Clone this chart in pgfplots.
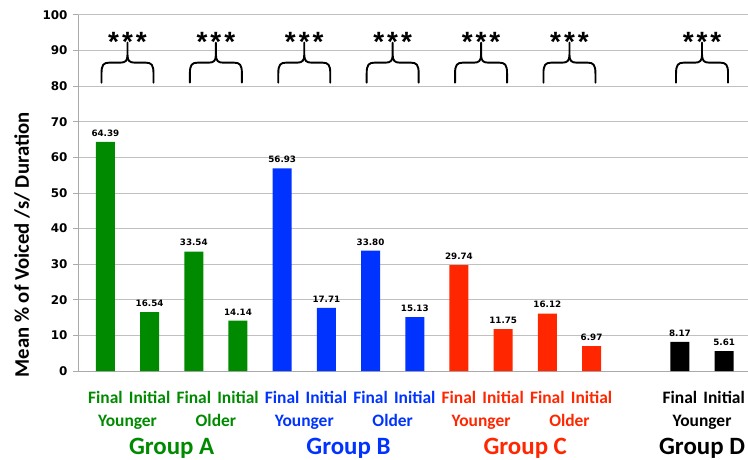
\documentclass[border=0pt]{standalone}
\usepackage{fontspec}
\setmainfont{Carlito}
\newfontfamily\numfont{DejaVu Sans}
\newfontfamily\starfont{Liberation Sans}
\usepackage{pgfplots}
\pgfplotsset{compat=1.18}

\definecolor{grpA}{RGB}{0,138,0}
\definecolor{grpB}{RGB}{0,51,255}
\definecolor{grpC}{RGB}{255,38,0}
\definecolor{grpD}{RGB}{0,0,0}
\definecolor{gridgray}{RGB}{192,192,192}
\definecolor{axgray}{RGB}{170,170,170}

% significance brace with stars, anchored at the middle of its feet
\newcommand\sigbrace[1]{%
  \draw[line width=1.9bp, line cap=round, line join=round, shift={(#1)}]
    (-26bp,0bp) -- (-26bp,9bp) .. controls (-26bp,18bp) and (-24bp,20bp) .. (-18bp,20bp)
    -- (-7bp,20bp) .. controls (-2bp,20bp) and (0bp,22bp) .. (0bp,28bp) -- (0bp,40bp)
    (26bp,0bp) -- (26bp,9bp) .. controls (26bp,18bp) and (24bp,20bp) .. (18bp,20bp)
    -- (7bp,20bp) .. controls (2bp,20bp) and (0bp,22bp) .. (0bp,28bp);
  \node[font=\starfont\bfseries\fontsize{28}{28}\selectfont, anchor=base, inner sep=0pt]
    at ([yshift=31bp]#1) {*\kern3bp*\kern3bp*};
}

\begin{document}
\begin{tikzpicture}
\begin{axis}[
  name=ax,
  scale only axis,
  width=670bp, height=356bp,
  xmin=-0.62, xmax=14.54,
  ymin=0, ymax=100,
  ytick={0,10,...,100},
  axis lines=left,
  axis line style={-, draw=axgray, line width=1pt},
  ymajorgrids,
  grid style={gridgray, line width=1pt},
  major tick length=5bp,
  tick align=outside,
  y tick style={axgray, line width=1pt},
  x tick style={draw=none},
  /pgf/number format/assume math mode=true,
  yticklabel style={font=\numfont\bfseries\fontsize{12}{12}\selectfont, xshift=-2bp},
  xtick={0,1,2,3,4,5,6,7,8,9,10,11,13,14},
  xticklabels={
    \textcolor{grpA}{Final},\textcolor{grpA}{Initial},\textcolor{grpA}{Final},\textcolor{grpA}{Initial},
    \textcolor{grpB}{Final},\textcolor{grpB}{Initial},\textcolor{grpB}{Final},\textcolor{grpB}{Initial},
    \textcolor{grpC}{Final},\textcolor{grpC}{Initial},\textcolor{grpC}{Final},\textcolor{grpC}{Initial},
    \textcolor{grpD}{Final},\textcolor{grpD}{Initial}},
  xticklabel style={font=\bfseries\fontsize{17.5}{17.5}\selectfont, anchor=base, yshift=-27bp},
  clip=false,
  ybar, bar width=19bp, bar shift=0pt,
  nodes near coords={\pgfmathprintnumber[fixed,fixed zerofill,precision=2]{\pgfplotspointmeta}},
  every node near coord/.append style={font=\numfont\bfseries\fontsize{8.8}{9}\selectfont, text=black, yshift=2bp},
]
% Group A
\addplot[fill=grpA, draw=none] coordinates {(0,64.39) (1,16.54) (2,33.54) (3,14.14)};
% Group B
\addplot[fill=grpB, draw=none] coordinates {(4,56.93) (5,17.71) (6,33.80) (7,15.13)};
% Group C
\addplot[fill=grpC, draw=none] coordinates {(8,29.74) (9,11.75) (10,16.12) (11,6.97)};
% Group D
\addplot[fill=grpD, draw=none] coordinates {(13,8.17) (14,5.61)};

% anchors for the significance braces
\coordinate (b1) at (axis cs:0.5,81);
\coordinate (b2) at (axis cs:2.5,81);
\coordinate (b3) at (axis cs:4.5,81);
\coordinate (b4) at (axis cs:6.5,81);
\coordinate (b5) at (axis cs:8.5,81);
\coordinate (b6) at (axis cs:10.5,81);
\coordinate (b7) at (axis cs:13.5,81);

% age and group captions
\coordinate (y1) at (axis cs:0.5,0);
\coordinate (y2) at (axis cs:2.5,0);
\coordinate (y3) at (axis cs:4.5,0);
\coordinate (y4) at (axis cs:6.5,0);
\coordinate (y5) at (axis cs:8.5,0);
\coordinate (y6) at (axis cs:10.5,0);
\coordinate (y7) at (axis cs:13.5,0);
\coordinate (g1) at (axis cs:1.5,0);
\coordinate (g2) at (axis cs:5.5,0);
\coordinate (g3) at (axis cs:9.5,0);
\coordinate (g4) at (axis cs:13.5,0);
\end{axis}

\foreach \b in {b1,b2,b3,b4,b5,b6,b7} {\sigbrace{\b}}

\begin{scope}[every node/.style={font=\bfseries\fontsize{17.5}{17.5}\selectfont, anchor=base, inner sep=0pt}]
  \node[text=grpA] at ([yshift=-55bp]y1) {Younger};
  \node[text=grpA] at ([yshift=-55bp]y2) {Older};
  \node[text=grpB] at ([yshift=-55bp]y3) {Younger};
  \node[text=grpB] at ([yshift=-55bp]y4) {Older};
  \node[text=grpC] at ([yshift=-55bp]y5) {Younger};
  \node[text=grpC] at ([yshift=-55bp]y6) {Older};
  \node[text=grpD] at ([yshift=-55bp]y7) {Younger};
\end{scope}
\begin{scope}[every node/.style={font=\bfseries\fontsize{25}{25}\selectfont, anchor=base, inner sep=0pt}]
  \node[text=grpA] at ([yshift=-83bp]g1) {Group A};
  \node[text=grpB] at ([yshift=-83bp]g2) {Group B};
  \node[text=grpC] at ([yshift=-83bp]g3) {Group C};
  \node[text=grpD] at ([yshift=-83bp]g4) {Group D};
\end{scope}

\node[rotate=90, font=\bfseries\fontsize{20.8}{20.8}\selectfont, inner sep=0pt]
  at ([xshift=-56bp, yshift=-52bp]ax.west) {Mean \% of Voiced /s/ Duration};

\pgfresetboundingbox
\path[use as bounding box] ([shift={(-78bp,-89bp)}]ax.south west) rectangle ([shift={(0bp,15bp)}]ax.north east);
\end{tikzpicture}
\end{document}
